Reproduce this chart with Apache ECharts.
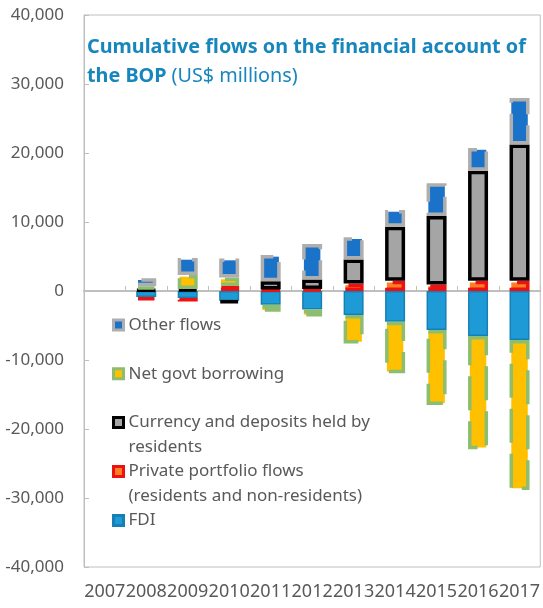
<!DOCTYPE html>
<html>
<head>
<meta charset="utf-8">
<script src="https://cdn.jsdelivr.net/npm/echarts@6/dist/echarts.min.js"></script>
<style>
    html, body { margin: 0; padding: 0; background: #fff; }
    #chart { width: 543px; height: 608px; }
</style>
</head>
<body>
<div id="chart"></div>
<script>
// categories
const years = ["2007", "2008", "2009", "2010", "2011", "2012", "2013", "2014", "2015", "2016", "2017"];

// US$ millions (0 = nothing drawn)
const fdi = [0, -870, -1010, -1400, -2000, -2680, -3480, -4450, -5650, -6520, -7100];
const privatePortfolio = [0, -500, -510, 720, 200, 300, 1090, 1490, 940, 1490, 1490];
const currencyDeposits = [0, 200, 300, -300, 1200, 1350, 3480, 7830, 9930, 15940, 19740];
const govtBorrowing = [0, 500, 2030, 1230, -1000, -1000, -4130, -7480, -10870, -16420, -21740];
const otherFlows = [0, 1150, 2460, 2750, 3830, 5170, 3220, 2420, 4740, 3290, 6740];

const yTicks = [-40000, -30000, -20000, -10000, 0, 10000, 20000, 30000, 40000];

const grey = "#595959";
const axisGrey = "#BFBFBF";
const dash = [34, 11];

let chart = echarts.init(document.getElementById("chart"));

function makeBar(name, values, fill, border, width, type) {
    return {
        name: name,
        type: "bar",
        stack: "bop",
        barWidth: 20,
        xAxisIndex: 0,
        data: values.map(function (v) {
            return v === 0 ? "-" : v;
        }),
        itemStyle: {
            color: fill,
            borderColor: border,
            borderWidth: width,
            borderType: type,
        },
    };
}

// stacking order follows the spreadsheet series order
let series = [
    makeBar("FDI", fdi, "#1E9BD7", "#1580B6", 1.5, "solid"),
    makeBar("Private portfolio flows", privatePortfolio, "#FF7F22", "#EE1111", 3.5, dash),
    makeBar("Currency and deposits held by residents", currencyDeposits, "#A5A5A5", "#000000", 3.5, "solid"),
    makeBar("Net govt borrowing", govtBorrowing, "#FFC000", "#8DBE70", 3.5, dash),
    makeBar("Other flows", otherFlows, "#1B72C9", "#AEAEAE", 3.5, dash),
];

function makeLegend(name, label, top) {
    let s = series.find(function (item) {
        return item.name === name;
    });
    return {
        data: [name],
        left: 112,
        top: top,
        padding: 0,
        icon: "rect",
        itemWidth: 10,
        itemHeight: 10,
        selectedMode: false,
        formatter: function () {
            return label;
        },
        itemStyle: {
            color: s.itemStyle.color,
            borderColor: s.itemStyle.borderColor,
            borderWidth: 3,
            borderType: "solid",
        },
        textStyle: {
            color: grey,
            fontSize: 17,
            fontFamily: "Noto Sans",
            lineHeight: 24.5,
        },
    };
}

chart.setOption({
    animation: false,
    backgroundColor: "#fff",
    title: {
        left: 87,
        top: 33,
        padding: 0,
        text: "{b|Cumulative flows on the financial account of}\n{b|the BOP} {n|(US$ millions)}",
        textStyle: {
            rich: {
                b: {
                    color: "#1786BD",
                    fontSize: 19.8,
                    fontWeight: "bold",
                    fontFamily: "Noto Sans",
                    lineHeight: 29,
                },
                n: {
                    color: "#1786BD",
                    fontSize: 19.8,
                    fontWeight: "normal",
                    fontFamily: "Noto Sans",
                    lineHeight: 29,
                },
            },
        },
    },
    legend: [
        makeLegend("Other flows", "Other flows", 312.75),
        makeLegend("Net govt borrowing", "Net govt borrowing", 361.5),
        // leading empty line keeps the first line level with the icon
        makeLegend("Currency and deposits held by residents", "\nCurrency and deposits held by\nresidents", 385.75),
        makeLegend("Private portfolio flows", "\nPrivate portfolio flows\n(residents and non-residents)", 434.75),
        makeLegend("FDI", "FDI", 508.25),
    ],
    grid: {
        left: 84,
        right: 0,
        top: 15,
        bottom: 41,
        show: true,
        borderColor: axisGrey,
        borderWidth: 1,
    },
    xAxis: [
        {
            type: "category",
            data: years,
            position: "bottom",
            axisLine: { show: false, onZero: false },
            axisTick: { show: false },
            axisLabel: {
                interval: 0,
                margin: 16,
                color: grey,
                fontSize: 18,
                fontFamily: "Noto Sans",
            },
        },
        {
            type: "category",
            data: years,
            position: "bottom",
            axisLine: { show: true, onZero: true, lineStyle: { color: axisGrey, width: 2 } },
            axisTick: { show: true, inside: true, length: 5, lineStyle: { color: axisGrey } },
            axisLabel: { show: false },
        },
    ],
    yAxis: {
        type: "value",
        min: yTicks[0],
        max: yTicks[yTicks.length - 1],
        interval: 10000,
        axisLine: { show: true, lineStyle: { color: axisGrey } },
        axisTick: { show: true, inside: true, length: 5, lineStyle: { color: axisGrey } },
        splitLine: { show: false },
        axisLabel: {
            margin: 20,
            color: grey,
            fontSize: 17,
            fontFamily: "Noto Sans",
            formatter: function (v) {
                return v.toLocaleString("en-US");
            },
        },
    },
    series: series,
});

window.addEventListener("resize", function () {
    chart.resize();
});
</script>
</body>
</html>
